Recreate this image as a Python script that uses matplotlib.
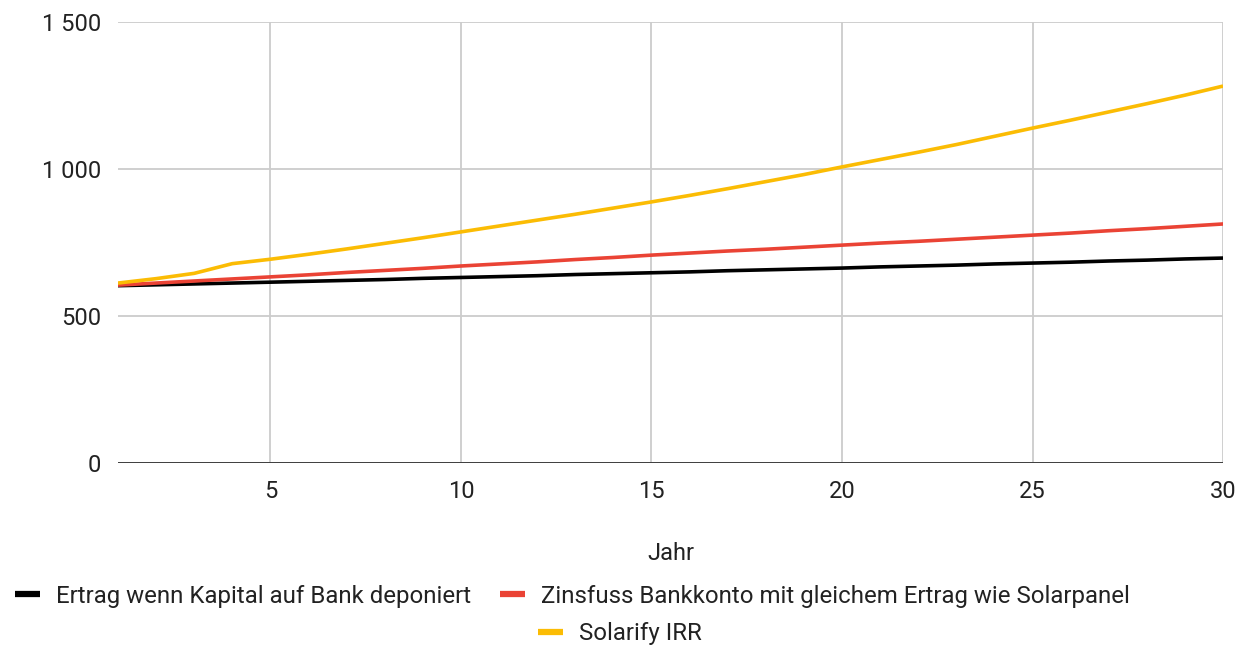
import matplotlib
matplotlib.use("Agg")
import matplotlib.pyplot as plt
from matplotlib.ticker import FuncFormatter
from matplotlib.lines import Line2D

plt.rcParams['font.family'] = ['Roboto', 'DejaVu Sans']

jahre = list(range(1, 31))
bank = [603, 606, 609, 612, 615, 618, 621, 624, 628, 631, 634, 637, 641, 644, 647,
        650, 654, 657, 660, 663, 667, 670, 673, 677, 680, 683, 687, 690, 694, 697]
zinsfuss = [605, 612, 619, 626, 633, 640, 648, 655, 662, 670, 677, 684, 692, 699, 707,
            714, 721, 727, 734, 741, 748, 754, 761, 768, 775, 782, 790, 797, 805, 813]
solarify = [612, 627, 645, 678, 693, 710, 728, 747, 766, 786, 806, 826, 846, 867, 888,
            910, 933, 957, 981, 1007, 1032, 1057, 1083, 1111, 1139, 1166, 1194, 1222, 1251, 1282]

labels = ["Ertrag wenn Kapital auf Bank deponiert",
          "Zinsfuss Bankkonto mit gleichem Ertrag wie Solarpanel",
          "Solarify IRR"]
colors = ["#000000", "#ea4335", "#fbbc04"]

fig = plt.figure(figsize=(12.47, 6.5), dpi=100)
ax = fig.add_axes([0.0946, 0.2877, 0.8862, 0.6785])

for ys, c in zip([bank, zinsfuss, solarify], colors):
    ax.plot(jahre, ys, color=c, lw=2.6, solid_capstyle='butt')

ax.set_xlim(1, 30)
ax.set_ylim(0, 1500)
ax.set_xticks([5, 10, 15, 20, 25, 30])
ax.set_yticks([0, 500, 1000, 1500])
ax.yaxis.set_major_formatter(FuncFormatter(lambda v, p: f"{int(v):,}".replace(",", " ")))
ax.grid(True, color="#cccccc", lw=1.3)
ax.set_axisbelow(True)
for s in ax.spines.values():
    s.set_visible(False)
ax.axhline(0, color="#333333", lw=1.3)
ax.tick_params(length=0, labelsize=17, colors="#222222", pad=12)
ax.set_xlabel("Jahr", fontsize=17, color="#222222", labelpad=28)

handles = [Line2D([0], [0], color=c, lw=4.5, solid_capstyle='butt') for c in colors]
leg1 = fig.legend(handles[:2], labels[:2], loc="center", bbox_to_anchor=(0.459, 0.083),
                  ncol=2, frameon=False, fontsize=17.3, handlelength=1.05,
                  columnspacing=1.2, handletextpad=0.65, borderpad=0)
leg2 = fig.legend(handles[2:], labels[2:], loc="center", bbox_to_anchor=(0.497, 0.025),
                  frameon=False, fontsize=17.3, handlelength=1.05, handletextpad=0.65,
                  borderpad=0)
for t in leg1.get_texts() + leg2.get_texts():
    t.set_color("#222222")

fig.savefig("out.png", dpi=100)
